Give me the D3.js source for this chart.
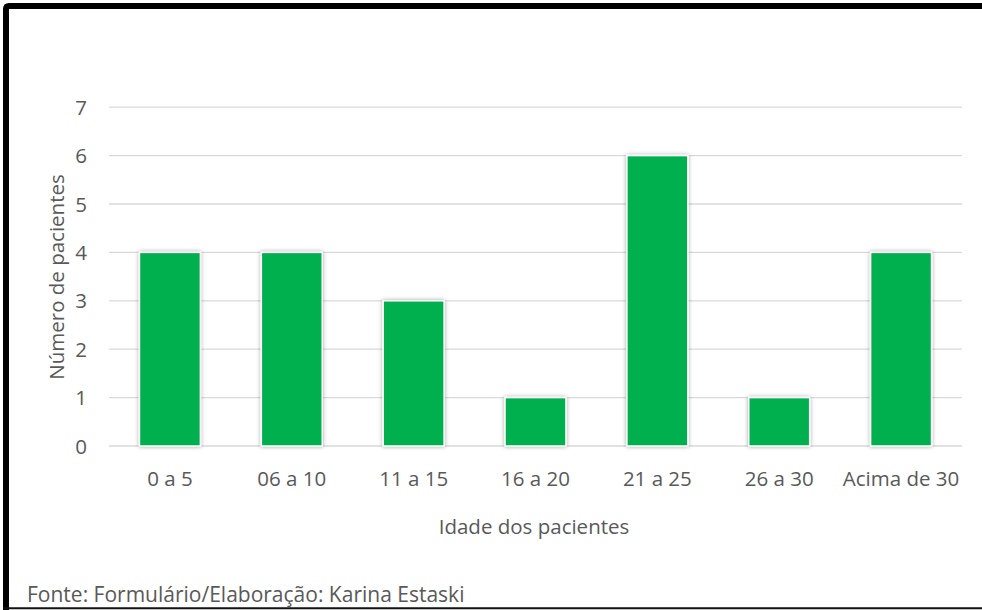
<!DOCTYPE html>
<html>
<head>
<meta charset="utf-8">
<script src="https://cdn.jsdelivr.net/npm/d3@7"></script>
<style>
  html, body { margin: 0; padding: 0; background: #fff; overflow: hidden; }
  svg { display: block; }
  text { font-family: "Open Sans", "Noto Sans", sans-serif; fill: #595959; }
</style>
</head>
<body>
<svg id="chart" width="982" height="610"></svg>
<script>
// Patients by age group
const categories = ["0 a 5", "06 a 10", "11 a 15", "16 a 20", "21 a 25", "26 a 30", "Acima de 30"];
const patients = [4, 4, 3, 1, 6, 1, 4];
const yTicks = [0, 1, 2, 3, 4, 5, 6, 7];
const xTitle = "Idade dos pacientes";
const yTitle = "Número de pacientes";
const sourceNote = "Fonte: Formulário/Elaboração: Karina Estaski";

const svg = d3.select("#chart");
const plot = { left: 109, right: 962, top: 107.2, bottom: 446 };
const FS = 20.5;

// Soft shadow under each bar
const defs = svg.append("defs");
const shadow = defs.append("filter").attr("id", "barShadow")
  .attr("x", "-30%").attr("y", "-10%").attr("width", "160%").attr("height", "120%");
shadow.append("feDropShadow").attr("dx", 0).attr("dy", 0)
  .attr("stdDeviation", 2.2).attr("flood-color", "#000").attr("flood-opacity", 0.35);

// Frame: thick left and top sides, thin bottom rule (runs off the right edge)
svg.append("path")
  .attr("d", "M 1000 6 L 9 6 Q 6 6 6 9 L 6 610")
  .attr("fill", "none").attr("stroke", "#000").attr("stroke-width", 6);
svg.append("line").attr("x1", 3).attr("x2", 1000).attr("y1", 608.2).attr("y2", 608.2)
  .attr("stroke", "#111").attr("stroke-width", 2);

const x = d3.scaleBand().domain(categories).range([plot.left, plot.right]).paddingInner(0.5).paddingOuter(0.25);
const y = d3.scaleLinear().domain([0, 7]).range([plot.bottom, plot.top]);

// Horizontal gridlines
svg.append("g").selectAll("line").data(yTicks).join("line")
  .attr("x1", plot.left).attr("x2", plot.right)
  .attr("y1", d => y(d)).attr("y2", d => y(d))
  .attr("stroke", "#d9d9d9").attr("stroke-width", 1.3);

// Y axis labels
const yAxis = d3.axisLeft(y).tickValues(yTicks).tickSize(0).tickPadding(0).tickFormat(d3.format("d"));
const gy = svg.append("g").attr("transform", `translate(87,0)`).call(yAxis);
gy.select(".domain").remove();
gy.selectAll("text").attr("font-size", FS).attr("text-anchor", "end").attr("dy", "0.35em")
  .style("font-family", "'Open Sans', 'Noto Sans', sans-serif").attr("fill", "#595959");

// Bars
svg.append("g").selectAll("rect").data(categories).join("rect")
  .attr("x", d => x(d))
  .attr("y", (d, i) => y(patients[i]))
  .attr("width", x.bandwidth())
  .attr("height", (d, i) => y(0) - y(patients[i]))
  .attr("fill", "#00b050")
  .attr("stroke", "#ffffff").attr("stroke-width", 1.5)
  .attr("filter", "url(#barShadow)");

// X axis labels
const xAxis = d3.axisBottom(x).tickSize(0).tickPadding(0);
const gx = svg.append("g").attr("transform", `translate(0,486)`).call(xAxis);
gx.select(".domain").remove();
gx.selectAll("text").attr("font-size", FS).attr("dy", 0)
  .style("font-family", "'Open Sans', 'Noto Sans', sans-serif").attr("fill", "#595959");

// Axis titles
svg.append("text").attr("x", 534).attr("y", 534).attr("text-anchor", "middle")
  .attr("font-size", FS).text(xTitle);
svg.append("text").attr("transform", "translate(64,277) rotate(-90)").attr("text-anchor", "middle")
  .attr("font-size", FS).text(yTitle);

// Source note
svg.append("text").attr("x", 27).attr("y", 602).attr("font-size", 21).text(sourceNote);
</script>
</body>
</html>
